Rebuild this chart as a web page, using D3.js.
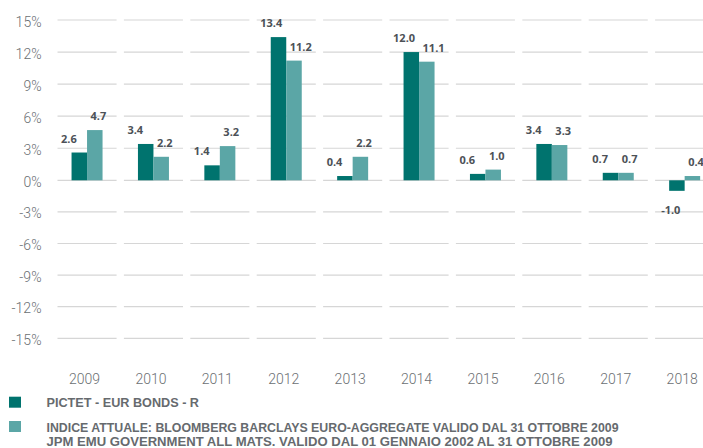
<!DOCTYPE html>
<html>
<head>
<meta charset="utf-8">
<script src="https://cdn.jsdelivr.net/npm/d3@7"></script>
<style>
  html, body { margin: 0; padding: 0; background: #fff; }
  svg { display: block; }
</style>
</head>
<body>
<div id="chart"></div>
<script>
// Annual returns (%), fund vs. benchmark
const years = ["2009", "2010", "2011", "2012", "2013", "2014", "2015", "2016", "2017", "2018"];
const fundValues = [2.6, 3.4, 1.4, 13.4, 0.4, 12.0, 0.6, 3.4, 0.7, -1.0];
const indexValues = [4.7, 2.2, 3.2, 11.2, 2.2, 11.1, 1.0, 3.3, 0.7, 0.4];
const yTicks = [15, 12, 9, 6, 3, 0, -3, -6, -9, -12, -15];
const seriesNames = ["PICTET - EUR BONDS - R", "INDICE ATTUALE: BLOOMBERG BARCLAYS EURO-AGGREGATE VALIDO DAL 31 OTTOBRE 2009"];
const seriesNote = "JPM EMU GOVERNMENT ALL MATS. VALIDO DAL 01 GENNAIO 2002 AL 31 OTTOBRE 2009";

const W = 703, H = 448;
const colors = ["#00736e", "#5ba6a6"];

const svg = d3.select("#chart").append("svg")
  .attr("width", W).attr("height", H);

const x = d3.scaleBand().domain(years).range([57.5, 714.2]).paddingInner(0.11).paddingOuter(0);
const y = d3.scaleLinear().domain([-15, 0, 15]).range([338.3, 180.3, 20]);
const barW = 15.5;

// Gridlines, one segment per category band
const grid = svg.append("g");
years.forEach(yr => {
  grid.selectAll(null).data(yTicks).enter().append("line")
    .attr("x1", x(yr)).attr("x2", x(yr) + x.bandwidth())
    .attr("y1", d => y(d)).attr("y2", d => y(d))
    .attr("stroke", "#d6d6d6").attr("stroke-width", 1.2);
});

const axisFont = "Roboto, 'Liberation Sans', sans-serif";

// Y tick labels
svg.append("g").selectAll("text").data(yTicks).enter().append("text")
  .attr("x", 41.5).attr("y", d => y(d) + 6.5)
  .attr("text-anchor", "end")
  .attr("font-family", axisFont)
  .attr("font-weight", 300)
  .attr("font-size", 14)
  .attr("fill", "#6b6f73")
  .text(d => d + "%");

// X labels
svg.append("g").selectAll("text").data(years).enter().append("text")
  .attr("x", d => x(d) + x.bandwidth() / 2 - 2.5).attr("y", 384)
  .attr("text-anchor", "middle")
  .attr("font-family", axisFont)
  .attr("font-weight", 300)
  .attr("font-size", 14)
  .attr("fill", "#6b6f73")
  .text(d => d);

// Bars
const series = [fundValues, indexValues];
const barX = (i, s) => x(years[i]) + x.bandwidth() / 2 - barW + s * barW;
series.forEach((vals, s) => {
  svg.append("g").selectAll("rect").data(vals).enter().append("rect")
    .attr("x", (d, i) => barX(i, s))
    .attr("y", d => y(Math.max(0, d)))
    .attr("width", barW)
    .attr("height", d => Math.abs(y(d) - y(0)))
    .attr("fill", colors[s]);
});

// Value labels
series.forEach((vals, s) => {
  svg.append("g").selectAll("text").data(vals).enter().append("text")
    .attr("x", (d, i) => barX(i, s) + (s === 0 ? (d < 0 ? -8 : -10.5) : 3.5))
    .attr("y", d => d >= 0 ? y(d) - 10 : y(d) + 23.3)
    .attr("font-family", "'Open Sans', 'DejaVu Sans', sans-serif")
    .attr("font-weight", 700)
    .attr("font-size", 11)
    .attr("fill", "#4c5157")
    .text(d => d.toFixed(1));
});

// Legend
const legend = svg.append("g");
const legendFont = "'Liberation Sans', Arial, sans-serif";
legend.append("rect").attr("x", 9).attr("y", 396.7).attr("width", 12).attr("height", 11).attr("fill", colors[0]);
legend.append("rect").attr("x", 9).attr("y", 421).attr("width", 12).attr("height", 11).attr("fill", colors[1]);
const legendLines = [
  { text: seriesNames[0], y: 407, len: 152.5 },
  { text: seriesNames[1], y: 432.3, len: 572 },
  { text: seriesNote, y: 446, len: 566 }
];
legend.selectAll("text").data(legendLines).enter().append("text")
  .attr("x", 46.5).attr("y", d => d.y)
  .attr("font-family", legendFont)
  .attr("font-weight", 700)
  .attr("font-size", 12.5)
  .attr("textLength", d => d.len)
  .attr("lengthAdjust", "spacingAndGlyphs")
  .attr("fill", "#666a6e")
  .text(d => d.text);
</script>
</body>
</html>
